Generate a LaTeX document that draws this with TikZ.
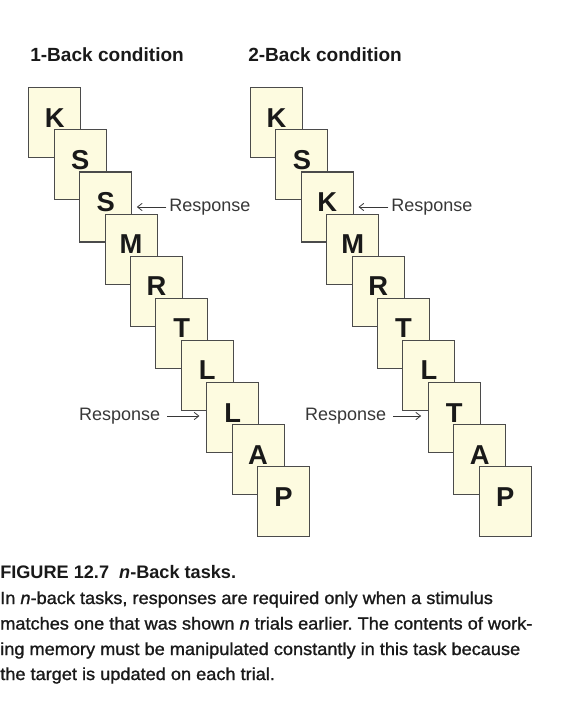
\documentclass[tikz,border=0pt]{standalone}
\usepackage{fontspec}
\setmainfont{Liberation Sans}
\newfontfamily\capfont{Liberation Sans}[FakeStretch=1.04,FakeBold=1.2]
\newfontfamily\capfontb{Liberation Sans Bold}[FakeStretch=1.0]
\usetikzlibrary{arrows.meta}
\definecolor{cardfill}{RGB}{253,251,224}
\definecolor{cardline}{RGB}{75,75,75}
\definecolor{resptext}{RGB}{55,55,55}
\definecolor{captext}{RGB}{25,25,25}
\frenchspacing
\begin{document}
\begin{tikzpicture}[x=0.75pt,y=-0.75pt,
  card/.style={draw=cardline, line width=0.8pt, fill=cardfill, minimum width=39pt, minimum height=52.5pt, inner sep=0pt, anchor=north west},
  letter/.style={font=\fontsize{20.5}{22}\selectfont\bfseries, text=captext, anchor=base, inner sep=0pt},
  title/.style={font=\fontsize{14.3}{16}\selectfont\bfseries, text=captext, anchor=base west, inner sep=0pt},
  resp/.style={font=\fontsize{13.5}{15}\selectfont, text=resptext, inner sep=0pt},
  resparrow/.style={draw=resptext, line width=0.6pt, -{Straight Barb[length=3.5pt,width=5.5pt]}},
  capline/.style={font=\capfont\fontsize{13.1}{14}\selectfont, text=captext, anchor=base west, inner sep=0pt},
  caphead/.style={font=\capfontb\fontsize{13.6}{14}\selectfont, text=captext, anchor=base west, inner sep=0pt}
]
\useasboundingbox (0,0) rectangle (570,712);

\node[title] (t1) at (30,61.5) {1-Back condition};
\node[title] (t2) at (248,61.5) {2-Back condition};

\foreach \L [count=\i from 0] in {K,S,S,M,R,T,L,L,A,P}{
  \node[card] (a\i) at ({28.3+25.4*\i},{87.3+42.1*\i}) {};
  \node[letter] (la\i) at ([yshift=-30pt]a\i.north) {\L};
}
\foreach \L [count=\i from 0] in {K,S,K,M,R,T,L,T,A,P}{
  \node[card] (b\i) at ({250+25.4*\i},{87.3+42.1*\i}) {};
  \node[letter] (lb\i) at ([yshift=-30pt]b\i.north) {\L};
}

% Responses
\node[resp, anchor=west] (ra1) at (169,207) {Response};
\draw[resparrow, shorten <=2pt, shorten >=3.5pt] (ra1.west) -- (ra1.west -| a2.east);
\node[resp, anchor=east] (ra2) at (160.5,416) {Response};
\draw[resparrow, shorten <=5pt, shorten >=5pt] (ra2.east) -- (ra2.east -| a7.west);

\node[resp, anchor=west] (rb1) at (391,207) {Response};
\draw[resparrow, shorten <=2pt, shorten >=3.5pt] (rb1.west) -- (rb1.west -| b2.east);
\node[resp, anchor=east] (rb2) at (386.5,416) {Response};
\draw[resparrow, shorten <=5pt, shorten >=5pt] (rb2.east) -- (rb2.east -| b7.west);

% Caption
\node[caphead] (c0) at (0,578) {FIGURE 12.7\ \ \textit{n}-Back tasks.};
\node[capline] (c1) at (0,604) {In \textit{n}-back tasks, responses are required only when a stimulus};
\node[capline] (c2) at (0,629.5) {matches one that was shown \textit{n} trials earlier. The contents of work-};
\node[capline] (c3) at (0,655) {ing memory must be manipulated constantly in this task because};
\node[capline] (c4) at (0,680) {the target is updated on each trial.};
\end{tikzpicture}
\end{document}
